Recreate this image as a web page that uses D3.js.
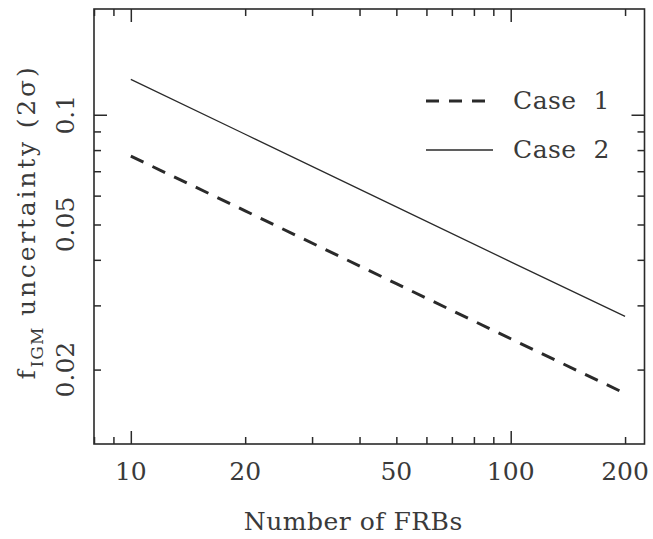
<!DOCTYPE html>
<html>
<head>
<meta charset="utf-8">
<script src="https://cdn.jsdelivr.net/npm/d3@7"></script>
<style>
  html, body { margin: 0; padding: 0; background: #fff; }
  svg { display: block; }
  text { font-family: "DejaVu Serif", serif; fill: #3a3a3a; }
</style>
</head>
<body>
<svg id="chart" width="653" height="539"></svg>
<script>
// ---- data ----
const nFRB = [10, 20, 50, 100, 200];
const case1 = [0.077, 0.0545, 0.0344, 0.0243, 0.0172];
const case2 = [0.125, 0.0884, 0.0559, 0.0395, 0.0280];
const xTickLabels = [10, 20, 50, 100, 200];
const yTickLabels = [0.1, 0.05, 0.02];
const xMajor = [10, 100];
const yMajor = [0.1];
const seriesNames = ["Case 1", "Case 2"];

// ---- layout ----
const pL = 94, pR = 644.5, pT = 9, pB = 444;
const svg = d3.select("#chart");
const ink = "#2a2a2a";

const x = d3.scaleLog().domain([8, 225]).range([pL, pR]);
const y = d3.scaleLog().domain([0.0125, 0.195]).range([pB, pT]);

// minor tick values
const xTicksAll = [];
[1, 10, 100].forEach(d => { for (let k = 1; k <= 9; k++) { const v = d * k; if (v >= 8 && v <= 225) xTicksAll.push(v); } });
const yTicksAll = [];
[0.01, 0.1].forEach(d => { for (let k = 1; k <= 9; k++) { const v = +(d * k).toFixed(4); if (v >= 0.0125 && v <= 0.195) yTicksAll.push(v); } });

const isMajX = v => xMajor.includes(v);
const isMajY = v => yMajor.some(m => Math.abs(m - v) < 1e-9);
const majLen = 13, minLen = 7;

const g = svg.append("g");
function axisTicks(axisFn, scale, vals, isMaj, transform) {
  vals.forEach(v => {
    const len = isMaj(v) ? majLen : minLen;
    const a = axisFn(scale).tickValues([v]).tickSize(-len).tickFormat("");
    const gg = g.append("g").attr("transform", transform).call(a);
    gg.select(".domain").remove();
    gg.selectAll("line").attr("stroke", ink).attr("stroke-width", 1.5);
  });
}
axisTicks(d3.axisBottom, x, xTicksAll, isMajX, `translate(0,${pB})`);
axisTicks(d3.axisTop, x, xTicksAll, isMajX, `translate(0,${pT})`);
axisTicks(d3.axisLeft, y, yTicksAll, isMajY, `translate(${pL},0)`);
axisTicks(d3.axisRight, y, yTicksAll, isMajY, `translate(${pR},0)`);

// frame
g.append("rect").attr("x", pL).attr("y", pT).attr("width", pR - pL).attr("height", pB - pT)
  .attr("fill", "none").attr("stroke", ink).attr("stroke-width", 1.6);

// x tick labels
g.selectAll(".xl").data(xTickLabels).enter().append("text")
  .attr("x", d => x(d)).attr("y", 480)
  .attr("text-anchor", "middle").attr("font-size", 25)
  .text(d => d);

// y tick labels (rotated)
g.selectAll(".yl").data(yTickLabels).enter().append("text")
  .attr("transform", d => `translate(74,${y(d)}) rotate(-90)`)
  .attr("text-anchor", "middle").attr("font-size", 25)
  .text(d => d);

// axis titles
svg.append("text").attr("x", (pL + pR) / 2 - 16).attr("y", 530)
  .attr("text-anchor", "middle").attr("font-size", 25).attr("letter-spacing", 0.5)
  .text("Number of FRBs");

const yt = svg.append("text").attr("transform", `translate(35,222) rotate(-90)`)
  .attr("text-anchor", "middle").attr("font-size", 25).attr("letter-spacing", 2.8);
yt.append("tspan").text("f");
yt.append("tspan").attr("font-size", 17).attr("dy", 8).attr("letter-spacing", 1).text("IGM");
yt.append("tspan").attr("dy", -8).text(" uncertainty (2σ)");

// lines
const line = d3.line().x(d => x(d[0])).y(d => y(d[1]));
g.append("path").datum(nFRB.map((n, i) => [n, case2[i]]))
  .attr("d", line).attr("fill", "none").attr("stroke", ink).attr("stroke-width", 1.3);
g.append("path").datum(nFRB.map((n, i) => [n, case1[i]]))
  .attr("d", line).attr("fill", "none").attr("stroke", ink).attr("stroke-width", 3)
  .attr("stroke-dasharray", "14,10");

// legend
const leg = [
  { name: seriesNames[0], ly: 101, dash: "13,10", w: 3 },
  { name: seriesNames[1], ly: 150, dash: null, w: 1.3 }
];
leg.forEach(l => {
  const p = svg.append("line").attr("x1", 426).attr("x2", 493).attr("y1", l.ly).attr("y2", l.ly)
    .attr("stroke", ink).attr("stroke-width", l.w);
  if (l.dash) p.attr("stroke-dasharray", l.dash);
  svg.append("text").attr("x", 513).attr("y", l.ly + 8).attr("font-size", 25)
    .attr("letter-spacing", 0.5).style("white-space", "pre")
    .text(l.name.replace(" ", "  "));
});
</script>
</body>
</html>
